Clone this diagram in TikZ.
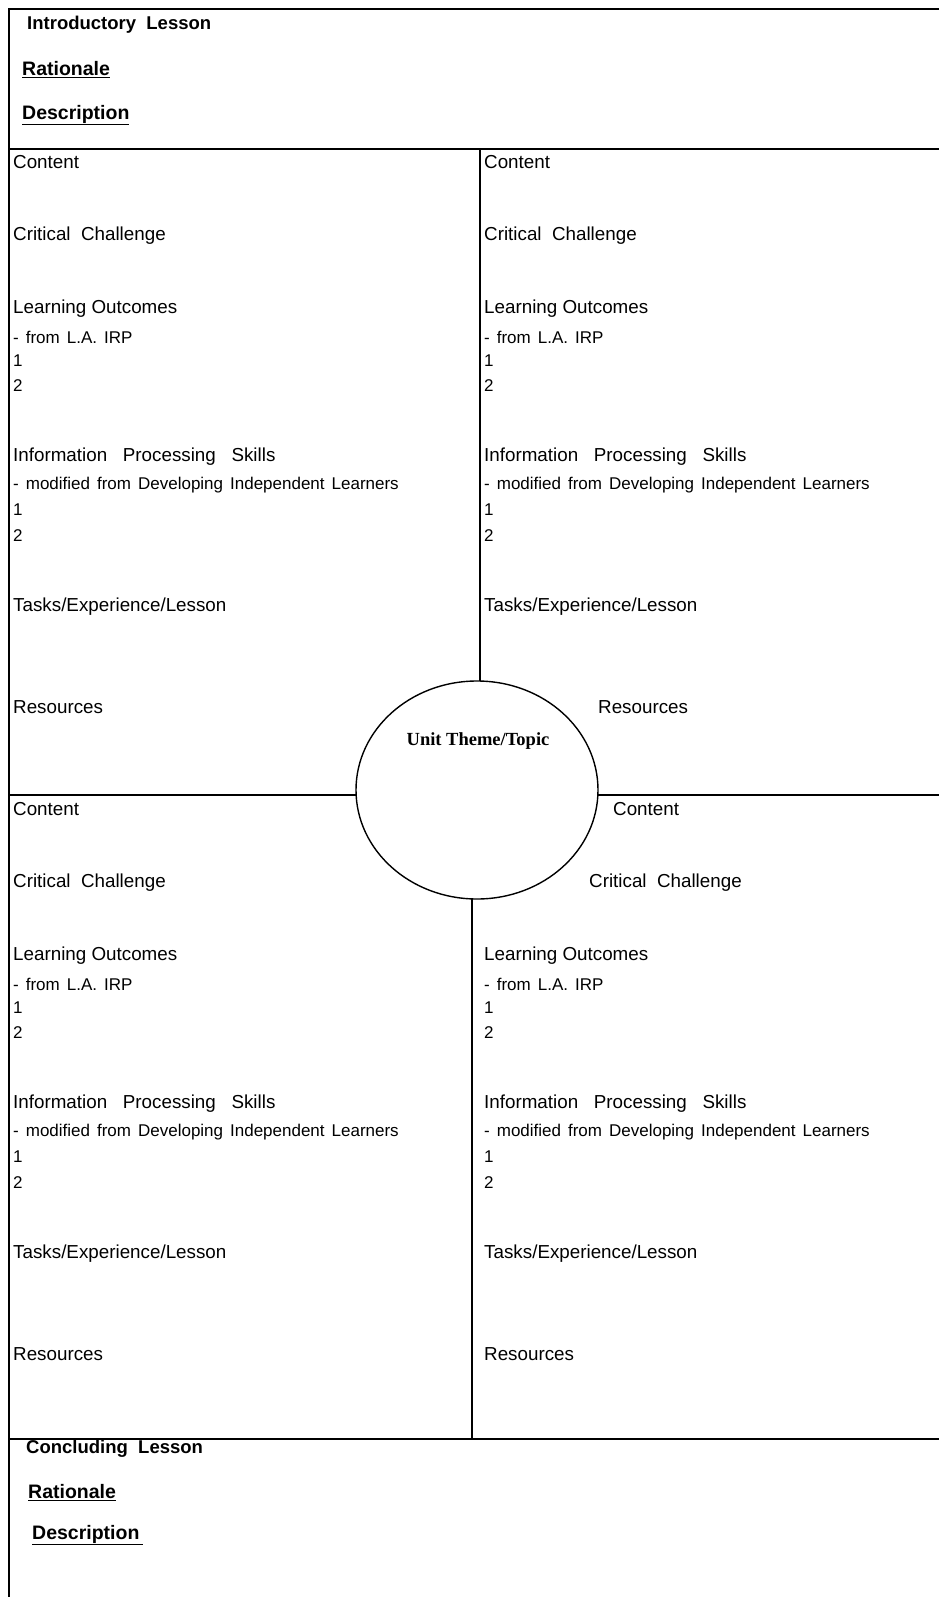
\documentclass[tikz,border=0pt]{standalone}
\usepackage{fontspec}
\setmainfont{Liberation Sans}
\newfontfamily\themefont{Liberation Serif}
\usetikzlibrary{shapes.geometric}
\newcommand{\smallfont}{\fontsize{17}{18}\selectfont\spaceskip=7pt plus 1pt\relax}

\begin{document}
\begin{tikzpicture}[x=1pt,y=-1pt]
    \tikzstyle{heading} = [
      anchor=west,
      inner sep=0pt,
      font=\fontsize{18.8}{20}\selectfont,
    ]
    \tikzstyle{smalltext} = [
      anchor=west,
      inner sep=0pt,
      font=\smallfont,
    ]
    \tikzstyle{lesson} = [
      anchor=west,
      inner sep=0pt,
      font=\fontsize{19.5}{20}\selectfont\bfseries,
    ]
    \tikzstyle{border} = [
      line width=1.8pt,
      draw=black,
    ]

    % #1 name, #2 text x, #3 y shift, #4 content x, #5 challenge x, #6 resources x
    \newcommand{\blockquad}[6]{
      \node[heading] (#1content) at (#4,162+#3) {Content};
      \node[heading] (#1challenge) at (#5,236+#3) {Critical\ \ Challenge};
      \node[heading] (#1outcomes) at (#2,309+#3) {Learning Outcomes};
      \node[smalltext] (#1irp) at (#2,337+#3) {- from L.A. IRP};
      \node[smalltext] (#1outI) at (#2,361+#3) {1};
      \node[smalltext] (#1outII) at (#2,386+#3) {2};
      \node[heading] (#1skills) at (#2,457+#3) {Information\ \ \ Processing\ \ \ Skills};
      \node[smalltext] (#1dil) at (#2,485+#3) {- modified from Developing Independent Learners};
      \node[smalltext] (#1skI) at (#2,510+#3) {1};
      \node[smalltext] (#1skII) at (#2,536+#3) {2};
      \node[heading] (#1tasks) at (#2,607+#3) {Tasks/Experience/Lesson};
      \node[heading] (#1res) at (#6,707+#3) {Resources};
    }

    \fill[white] (0,0) rectangle (939,1597);
    \useasboundingbox (0,0) rectangle (939,1597);

    \coordinate (origo) at (9,9);
    \coordinate (topsplit) at (9,149);
    \coordinate (midsplit) at (9,795);
    \coordinate (lowsplit) at (9,1439);

    \draw[border] (origo -| 939,0) -- (origo) -- (9,1597);
    \draw[border] (topsplit) -- (topsplit -| 939,0);
    \draw[border] (midsplit) -- (midsplit -| 939,0);
    \draw[border] (lowsplit) -- (lowsplit -| 939,0);
    \draw[border,line width=1.5pt] (topsplit -| 480,0) -- (480,790);
    \draw[border,line width=1.5pt] (472,790) -- (lowsplit -| 472,0);

    \node[ellipse,draw,fill=white,line width=1.4pt,minimum width=242,minimum height=218] (theme) at (477,790) {};
    \node[font=\themefont\bfseries\fontsize{18.5}{20}\selectfont] (themetext) at (478,741) {Unit Theme/Topic};

    \node[lesson,font=\fontsize{18.5}{20}\selectfont\bfseries] (intro) at (27,25) {Introductory\ \ Lesson};
    \node[lesson] (introrat) at (22,70) {\underline{Rationale}};
    \node[lesson] (introdesc) at (22,115) {\underline{Description}};

    \blockquad{tl}{13}{0}{13}{13}{13}
    \blockquad{tr}{484}{0}{484}{484}{598}
    \blockquad{bl}{13}{647}{13}{13}{13}
    \blockquad{br}{484}{647}{613}{589}{484}

    \node[lesson,font=\fontsize{18.5}{20}\selectfont\bfseries] (concl) at (26,1449) {Concluding\ \ Lesson};
    \node[lesson] (conclrat) at (28,1493) {\underline{Rationale}};
    \node[lesson] (concldesc) at (32,1535) {\underline{Description\hspace{4pt}}};
  \end{tikzpicture}
\end{document}
